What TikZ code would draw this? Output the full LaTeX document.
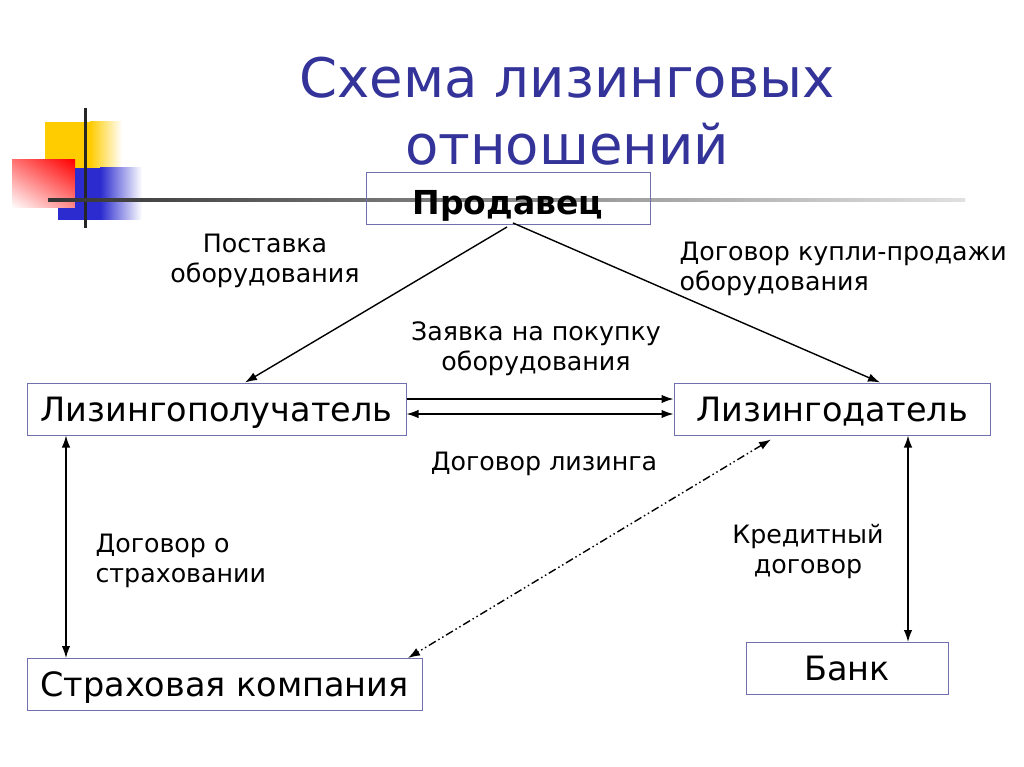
\documentclass[tikz,border=0pt]{standalone}
\usepackage{fontspec}
\setmainfont{DejaVu Sans}
\usetikzlibrary{arrows.meta,shadings}
\definecolor{titleblue}{HTML}{333399}
\definecolor{boxline}{HTML}{7070B0}
\definecolor{ylw}{HTML}{FFCC00}
\definecolor{blu}{HTML}{2B2BD0}
\begin{document}
\begin{tikzpicture}[x=1pt,y=-1pt,
  box/.style={draw=boxline,line width=1pt,minimum height=52pt,inner sep=0pt,text height=24.5pt,text depth=0pt,font=\fontsize{33.5}{36}\selectfont},
  lbl/.style={font=\fontsize{25.3}{30}\selectfont,align=center},
  conn/.style={line width=1.4pt,-{Latex[length=12pt,width=8.5pt]}},
  bconn/.style={line width=1.4pt,{Latex[length=12pt,width=8.5pt]}-{Latex[length=12pt,width=8.5pt]}}]
\useasboundingbox (0,0) rectangle (1024,767);
\fill[white] (0,0) rectangle (1024,767);
% decoration
\fill[ylw] (45,122) rectangle (90,185);
\shade[left color=ylw,right color=white] (90,122) rectangle (122,185);
\shade[lower left=white,upper right=red,lower right=white!55!red,upper left=white!45!red] (12,160) rectangle (75,208);
\fill[blu] (75,168) rectangle (100,220);
\fill[blu] (58,208) rectangle (75,220);
\shade[left color=blu,right color=white] (100,168) rectangle (142,220);
\draw[line width=3pt,black!85] (85,108) -- (85,228);
\shade[left color=black!80,right color=black!12] (48,198.5) rectangle (965,201.5);
% title
\node[text=titleblue,font=\fontsize{54.5}{67}\selectfont,align=center] (title) at (567,111) {Схема лизинговых\\отношений};
% boxes
\node[box,minimum width=284pt,font=\fontsize{33}{36}\selectfont\bfseries,text height=31pt] (seller) at (508,199) {Продавец};
\node[box,minimum width=379pt] (lessee) at (216.5,409) {Лизингополучатель};
\node[box,minimum width=316pt] (lessor) at (832,409) {Лизингодатель};
\node[box,minimum width=395pt] (ins) at (224.5,684.5) {Страховая компания};
\node[box,minimum width=202pt] (bank) at (847,668.5) {Банк};
% connectors
\coordinate (s1) at (507,227);
\coordinate (s2) at (513,223);
\draw[conn] (s1) -- (lessee.north -| 245,0);
\draw[conn] (s2) -- (lessor.north -| 880,0);
\draw[conn] (lessee.east |- 0,399) -- (lessor.west |- 0,399);
\draw[bconn] (lessee.east |- 0,414) -- (lessor.west |- 0,414);
\draw[bconn] (lessee.south -| 66,0) -- (ins.north -| 66,0);
\draw[bconn] (lessor.south -| 908,0) -- (bank.north -| 908,0);
\draw[bconn,dash pattern=on 8pt off 3pt on 1.5pt off 3pt on 1.5pt off 3pt] (lessor.south -| 771,0) ++(0,4) -- (ins.north -| 408,0);
% labels
\node[lbl] (l1) at (265,261) {Поставка\\оборудования};
\node[lbl,align=left,anchor=west] (l2) at (676,269) {Договор купли-продажи\\оборудования};
\node[lbl] (l3) at (536,349) {Заявка на покупку\\оборудования};
\node[lbl] (l4) at (544,464) {Договор лизинга};
\node[lbl,align=left,anchor=west] (l5) at (92,561) {Договор о\\страховании};
\node[lbl] (l6) at (808,552) {Кредитный\\договор};
\end{tikzpicture}
\end{document}
